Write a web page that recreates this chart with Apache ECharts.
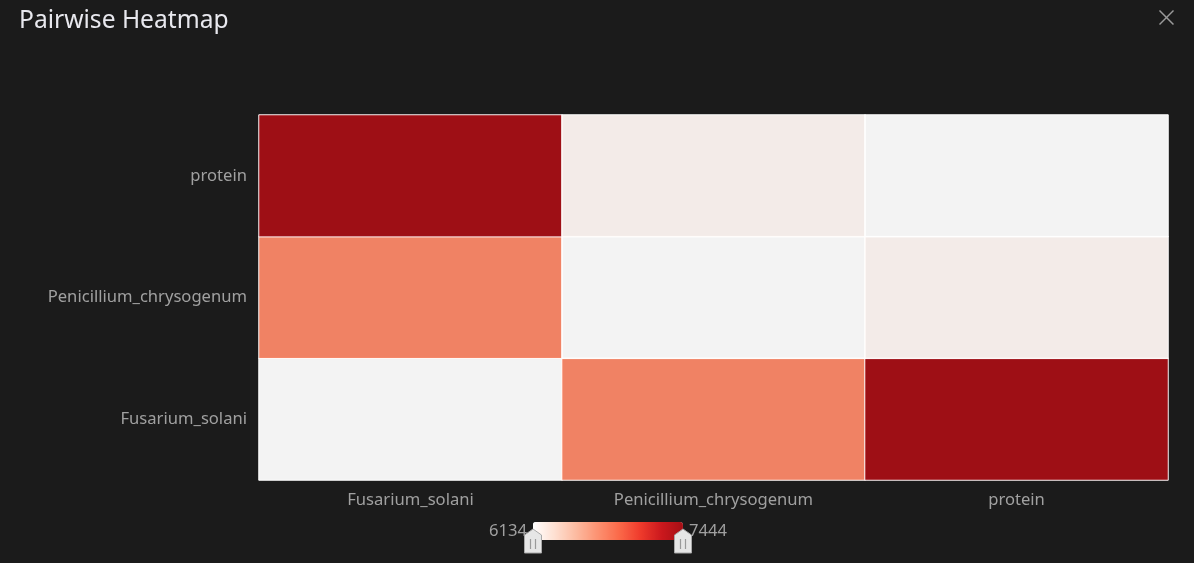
<!DOCTYPE html>
<html>
<head>
<meta charset="utf-8">
<script src="https://cdn.jsdelivr.net/npm/echarts@6/dist/echarts.min.js"></script>
<style>
html,body{margin:0;padding:0;background:#1b1b1b;}
#chart{width:1194px;height:563px;}
</style>
</head>
<body>
<div id="chart"></div>
<script>
const xCategories = ['Fusarium_solani', 'Penicillium_chrysogenum', 'protein'];
const yCategories = ['Fusarium_solani', 'Penicillium_chrysogenum', 'protein'];
// rows: y index, columns: x index
const matrixValues = [
  [6134, 6742, 7444],
  [6742, 6134, 6183],
  [7444, 6183, 6134]
];
const rangeMin = 6134;
const rangeMax = 7444;
const rampColors = ['#ffffff', '#fee0d2', '#fcbba1', '#fc9272', '#fb6a4a', '#ef3b2c', '#cb181d', '#a50f15'];

const heatData = [];
for (let yi = 0; yi < yCategories.length; yi++) {
  for (let xi = 0; xi < xCategories.length; xi++) {
    heatData.push([xi, yi, matrixValues[yi][xi]]);
  }
}

// visual map bar layout (decoration)
const vmLeft = 474, vmTop = 507, barLen = 150, barThick = 18;
const barStartX = 533, barMidY = 531;

function pin(cx) {
  const top = barMidY - 2, sh = top + 6, bot = top + 24, hw = 8.5;
  return {
    type: 'group', silent: true,
    children: [
      {type: 'polygon', z: 100, zlevel: 1, shape: {points: [[cx, top], [cx + hw, sh], [cx + hw, bot], [cx - hw, bot], [cx - hw, sh]]},
       style: {fill: '#e6e6e6', stroke: '#a8a8a8', lineWidth: 1}},
      {type: 'line', z: 101, zlevel: 1, shape: {x1: cx - 2.5, y1: sh + 4, x2: cx - 2.5, y2: bot - 4}, style: {stroke: '#9a9a9a', lineWidth: 1.2}},
      {type: 'line', z: 101, zlevel: 1, shape: {x1: cx + 2.5, y1: sh + 4, x2: cx + 2.5, y2: bot - 4}, style: {stroke: '#9a9a9a', lineWidth: 1.2}}
    ]
  };
}

const chart = echarts.init(document.getElementById('chart'), null, {renderer: 'canvas'});
const fontFam = "'Noto Sans', 'Open Sans', sans-serif";
chart.setOption({
  backgroundColor: '#1b1b1b',
  animation: false,
  title: {
    text: 'Pairwise Heatmap',
    left: 14,
    top: 3,
    textStyle: {color: '#e8e8ee', fontSize: 24.6, fontWeight: 'normal', fontFamily: fontFam}
  },
  graphic: [{
    type: 'group',
    left: 1157, top: 8,
    children: [
      {type: 'line', shape: {x1: 0, y1: 0, x2: 14, y2: 14}, style: {stroke: '#9a9a9a', lineWidth: 1.5}},
      {type: 'line', shape: {x1: 14, y1: 0, x2: 0, y2: 14}, style: {stroke: '#9a9a9a', lineWidth: 1.5}}
    ]
  }, pin(barStartX), pin(barStartX + barLen)],
  grid: {left: 259, right: 26, top: 115, bottom: 83, containLabel: false},
  xAxis: {
    type: 'category',
    data: xCategories,
    axisLine: {show: false},
    axisTick: {show: false},
    splitArea: {show: false},
    axisLabel: {color: '#a0a0a0', fontSize: 16.6, fontFamily: fontFam, margin: 12}
  },
  yAxis: {
    type: 'category',
    data: yCategories,
    axisLine: {show: true, lineStyle: {color: '#333'}},
    axisTick: {show: false},
    axisLabel: {color: '#a0a0a0', fontSize: 16.6, fontFamily: fontFam, margin: 12}
  },
  visualMap: {
    type: 'continuous',
    min: rangeMin,
    max: rangeMax,
    calculable: false,
    orient: 'horizontal',
    left: vmLeft,
    top: vmTop,
    itemWidth: barThick,
    itemHeight: barLen,
    text: [String(rangeMax), String(rangeMin)],
    textGap: 6,
    formatter: function () { return ''; },
    textStyle: {color: '#a0a0a0', fontSize: 16.6, fontFamily: fontFam},
    inRange: {color: rampColors}
  },
  series: [{
    type: 'heatmap',
    data: heatData,
    itemStyle: {borderColor: '#ffffff', borderWidth: 1, opacity: 0.95},
    emphasis: {disabled: true}
  }]
});
</script>
</body>
</html>
